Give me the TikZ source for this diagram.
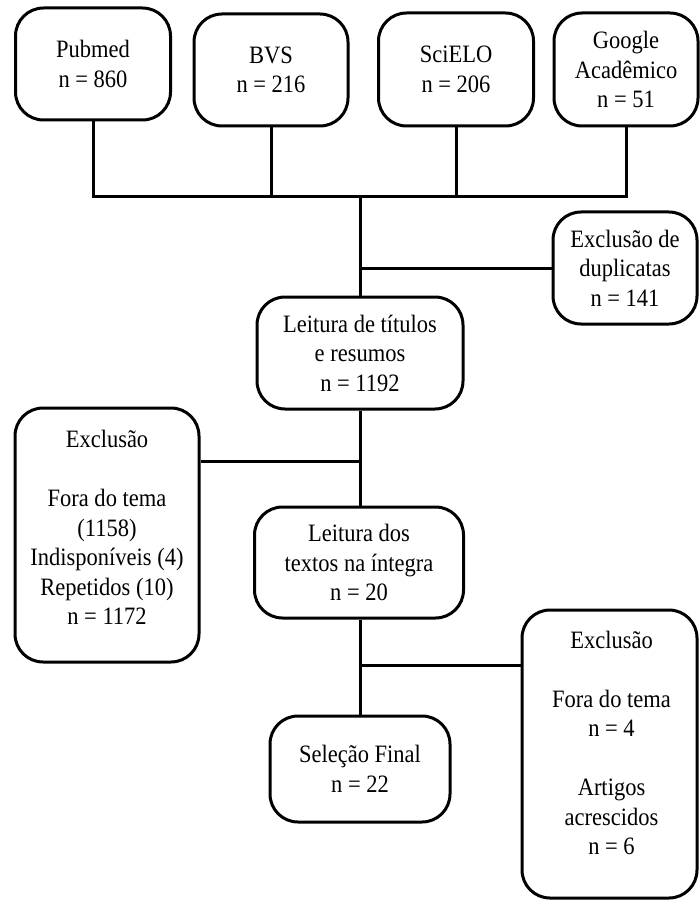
\documentclass[tikz,border=0pt]{standalone}
\usepackage{fontspec}
\setmainfont{Liberation Serif}[FakeStretch=0.9]
\begin{document}
\begin{tikzpicture}[x=1pt,y=-1pt,
  box/.style={draw=black, line width=3pt, rounded corners=28pt, fill=white,
    align=center, inner sep=2pt, font=\fontsize{25}{29.5}\selectfont},
  txt/.style={align=center, inner sep=0pt, font=\fontsize{25}{29.5}\selectfont},
  conn/.style={draw=black, line width=3pt, line join=miter}]
\useasboundingbox (0,0) rectangle (699,901);
% top row
\node[box, minimum width=155pt, minimum height=112pt] (pub) at (93,64) {Pubmed\\n = 860};
\node[box, minimum width=154pt, minimum height=112pt] (bvs) at (271,70) {BVS\\n = 216};
\node[box, minimum width=155pt, minimum height=113pt] (sci) at (456,69.5) {SciELO\\n = 206};
\node[box, minimum width=144pt, minimum height=113pt] (goo) at (626,69.5) {Google\\Acadêmico\\n = 51};
% middle
\node[box, minimum width=144pt, minimum height=112pt] (dup) at (625,268) {Exclusão de\\duplicatas\\n = 141};
\node[box, minimum width=206pt, minimum height=112pt] (lt) at (360,353) {Leitura de títulos\\e resumos\\n = 1192};
\node[box, minimum width=184pt, minimum height=254pt] (exL) at (107,535) {};
\node[txt] (exLt) at ([yshift=7.5pt]exL.center) {Exclusão\\[29.5pt]Fora do tema\\(1158)\\Indisponíveis (4)\\Repetidos (10)\\n = 1172};
\node[box, minimum width=209pt, minimum height=111pt] (ld) at (359,562.5) {Leitura dos\\textos na íntegra\\n = 20};
\node[box, minimum width=180pt, minimum height=106pt] (sel) at (360,769) {Seleção Final\\n = 22};
\node[box, minimum width=175pt, minimum height=288pt] (exR) at (609.5,754) {};
\node[txt] (exRt) at ([xshift=2pt,yshift=11pt]exR.center) {Exclusão\\[29.5pt]Fora do tema\\n = 4\\[29.5pt]Artigos\\acrescidos\\n = 6};
% junctions
\coordinate (bus) at (360,197);
\coordinate (jL) at (360,461);
\coordinate (jR) at (360,665);
% connectors
\draw[conn] (pub.south) -- (pub.south |- bus) -- (goo.south |- bus) -- (goo.south);
\draw[conn] (bvs.south) -- (bvs.south |- bus);
\draw[conn] (sci.south) -- (sci.south |- bus);
\draw[conn] (bus) -- (bus |- lt.north);
\draw[conn] (bus |- dup.west) -- (dup.west);
\draw[conn] (bus |- lt.south) -- (bus |- ld.north);
\draw[conn] (jL) -- (jL -| exL.east);
\draw[conn] (bus |- ld.south) -- (bus |- sel.north);
\draw[conn] (jR) -- (jR -| exR.west);
\end{tikzpicture}
\end{document}
